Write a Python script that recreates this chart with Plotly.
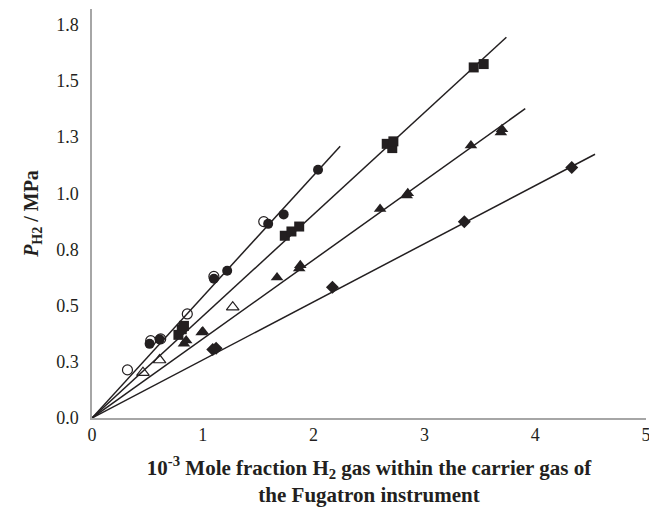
import plotly.graph_objects as go

# Filled circles
fc_x = [0.52, 0.61, 1.10, 1.22, 1.59, 1.73, 2.04]
fc_y = [0.33, 0.35, 0.62, 0.655, 0.864, 0.906, 1.105]
# Open circles
oc_x = [0.32, 0.53, 0.62, 0.86, 1.10, 1.55]
oc_y = [0.214, 0.344, 0.352, 0.463, 0.630, 0.874]
# Filled squares
sq_x = [0.78, 0.81, 0.83, 1.74, 1.80, 1.87, 2.66, 2.71, 2.72, 3.445, 3.535]
sq_y = [0.37, 0.395, 0.41, 0.811, 0.830, 0.852, 1.220, 1.201, 1.231, 1.560, 1.575]
# Filled triangles
tr_x = [0.83, 0.85, 0.99, 1.00, 1.67, 1.87, 1.88, 2.60, 2.84, 2.85, 3.42, 3.69, 3.70]
tr_y = [0.33, 0.345, 0.38, 0.385, 0.625, 0.665, 0.68, 0.930, 0.99, 1.00, 1.213, 1.27, 1.285]
# Open triangles
ot_x = [0.46, 0.61, 1.27]
ot_y = [0.202, 0.258, 0.493]
# Diamonds
dm_x = [1.09, 1.12, 2.17, 3.36, 4.33]
dm_y = [0.305, 0.31, 0.582, 0.873, 1.115]

# Fit lines through origin
fit_slope = [0.54, 0.453, 0.352, 0.2585]
fit_xend = [2.24, 3.74, 3.91, 4.54]

y_tickvals = [0, 0.25, 0.5, 0.75, 1.0, 1.25, 1.5, 1.75]
y_ticktext = ["0.0", "0.3", "0.5", "0.8", "1.0", "1.3", "1.5", "1.8"]
x_tickvals = [0, 1, 2, 3, 4, 5]

ink = "#231f20"
fig = go.Figure()
for s, xe in zip(fit_slope, fit_xend):
    fig.add_trace(go.Scatter(x=[0, xe], y=[0, s * xe], mode="lines",
                             line=dict(color=ink, width=1.5), showlegend=False, hoverinfo="skip"))

fig.add_trace(go.Scatter(x=fc_x, y=fc_y, mode="markers",
                         marker=dict(symbol="circle", size=10, color=ink), showlegend=False))
fig.add_trace(go.Scatter(x=sq_x, y=sq_y, mode="markers",
                         marker=dict(symbol="square", size=10, color=ink), showlegend=False))
fig.add_trace(go.Scatter(x=tr_x, y=tr_y, mode="markers",
                         marker=dict(symbol="triangle-up", size=11, color=ink), showlegend=False))
fig.add_trace(go.Scatter(x=dm_x, y=dm_y, mode="markers",
                         marker=dict(symbol="diamond", size=10, color=ink), showlegend=False))
fig.add_trace(go.Scatter(x=oc_x, y=oc_y, mode="markers",
                         marker=dict(symbol="circle-open", size=10, color=ink, line=dict(width=1.2)),
                         showlegend=False))
fig.add_trace(go.Scatter(x=ot_x, y=ot_y, mode="markers",
                         marker=dict(symbol="triangle-up-open", size=11, color=ink, line=dict(width=1.2)),
                         showlegend=False))

font_serif = "Liberation Serif, Times New Roman, serif"
fig.update_layout(
    width=649, height=509,
    margin=dict(l=92, r=3, t=9, b=91),
    paper_bgcolor="white", plot_bgcolor="white",
    font=dict(family=font_serif, size=18, color=ink),
    xaxis=dict(range=[0, 5], tickvals=x_tickvals, showgrid=False, zeroline=False,
               showline=True, linecolor="#a6a6a6", linewidth=1.5, ticks="",
               tickfont=dict(size=18, color=ink), ticklabeloverflow="allow", automargin=False,
               title=dict(text="<b>10<sup>-3</sup> Mole fraction H<sub>2</sub> gas within the carrier gas of<br>the Fugatron instrument</b>",
                          font=dict(size=21, color=ink), standoff=16)),
    yaxis=dict(range=[0, 1.82], tickvals=y_tickvals, ticktext=y_ticktext, showgrid=False,
               zeroline=False, showline=True, linecolor="#a6a6a6", linewidth=1.5, ticks="",
               tickfont=dict(size=18, color=ink), ticklabelstandoff=8, automargin=False,
               title=dict(text="<b><i>P</i><sub>H2</sub> / MPa</b>",
                          font=dict(size=20, color=ink), standoff=12)),
)

fig.write_html("out.html")
